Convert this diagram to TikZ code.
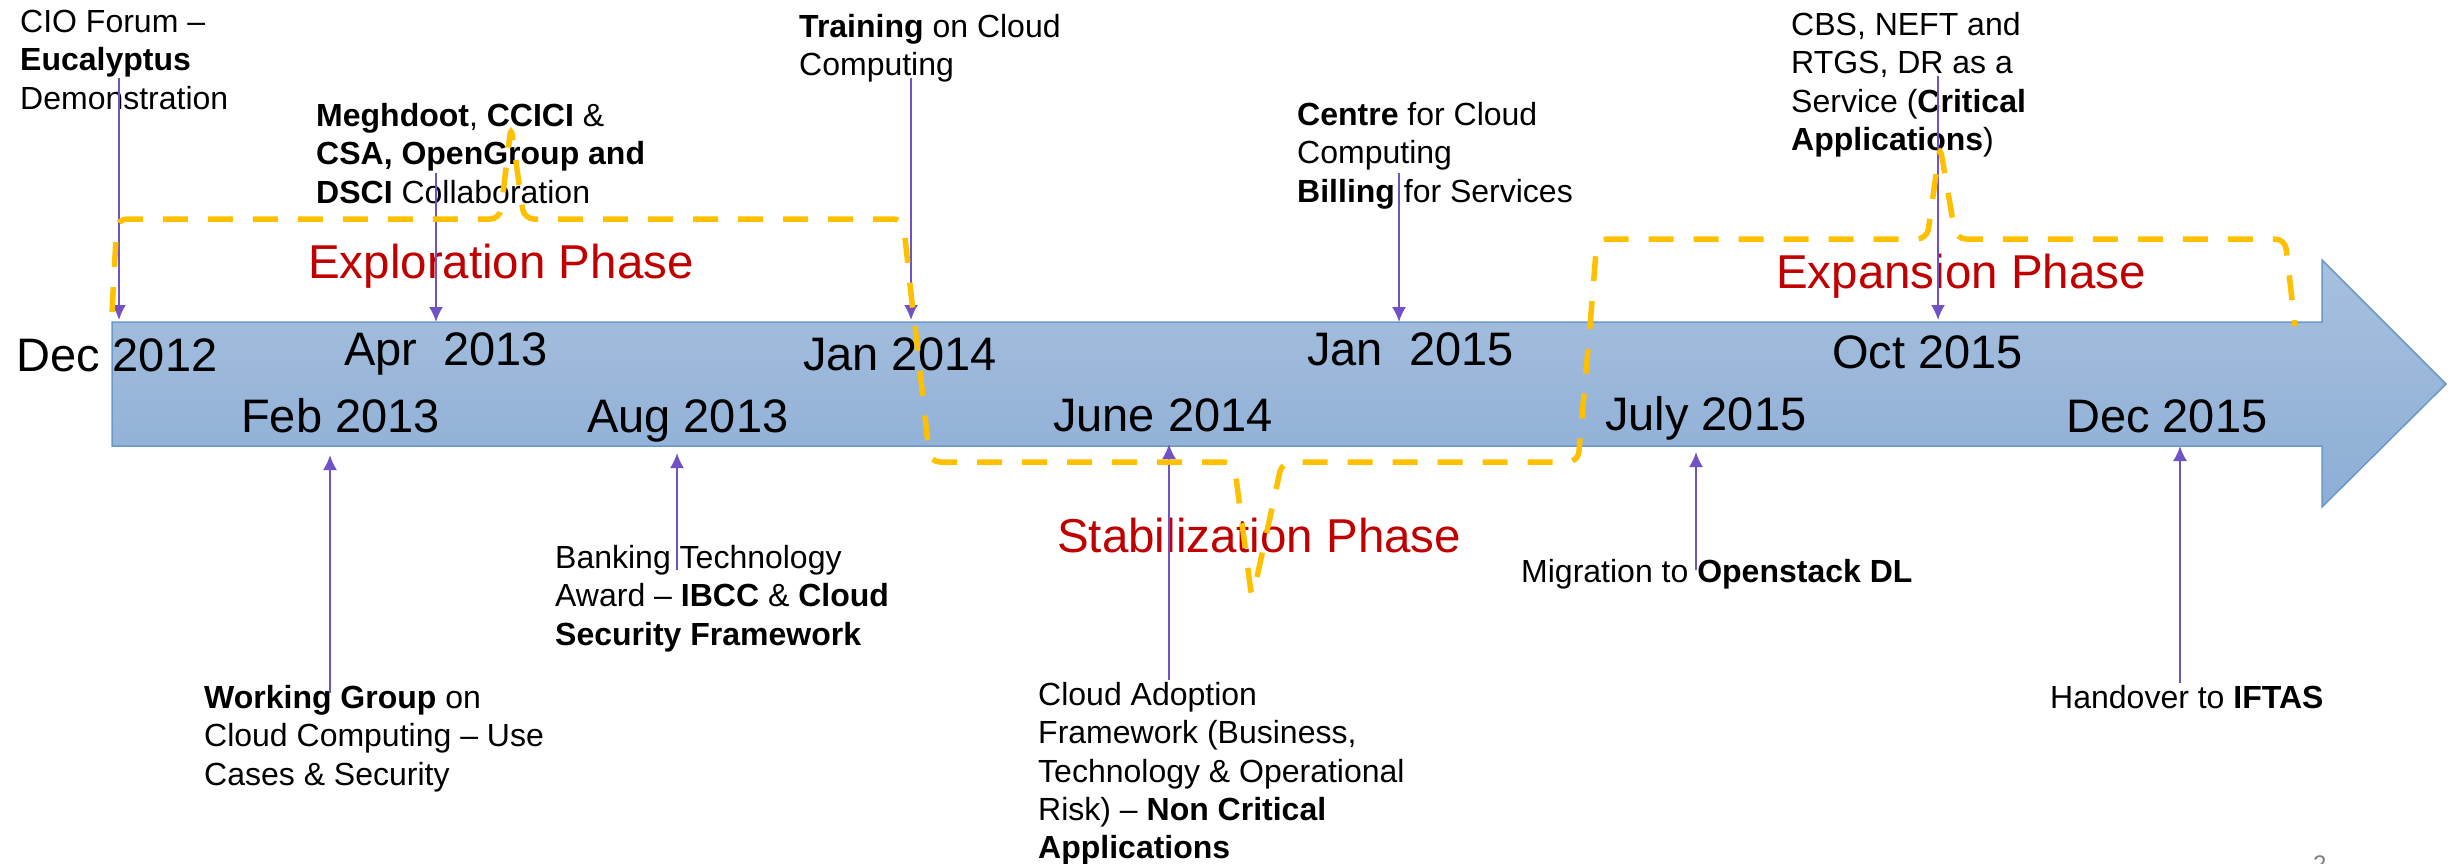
\documentclass[tikz,border=0pt]{standalone}
\usepackage{fontspec}
\setmainfont{Liberation Sans}
\usetikzlibrary{arrows.meta}

\definecolor{evpurple}{RGB}{112,82,198}
\definecolor{phaseorange}{RGB}{255,192,0}
\definecolor{phasered}{RGB}{192,0,0}
\definecolor{tltop}{RGB}{168,192,222}
\definecolor{tlbot}{RGB}{140,174,214}
\definecolor{tledge}{RGB}{106,152,200}

\tikzset{
	event/.style={draw=evpurple, line width=2pt, -{Latex[length=15pt,width=14pt]}},
	evtext/.style={anchor=north west, inner sep=0pt, align=left, font=\fontsize{32}{38.4}\selectfont},
	datelbl/.style={anchor=base west, inner sep=0pt, font=\fontsize{47}{56}\selectfont},
	phaselbl/.style={anchor=base west, inner sep=0pt, text=phasered, font=\fontsize{47.5}{56}\selectfont},
	phasebox/.style={draw=phaseorange, line width=5.5pt, dash pattern=on 25pt off 20pt, rounded corners=10pt},
}

\begin{document}
\begin{tikzpicture}[x=1pt,y=-1pt]
		\useasboundingbox (0,0) rectangle (2459,864);

		% the timeline arrow
		\shade[top color=tltop, bottom color=tlbot, draw=tledge, line width=1.5pt]
			(112,322) -- (2322,322) -- (2322,260) -- (2446,384) -- (2322,507) -- (2322,446) -- (112,446) -- cycle;

		% dates on the timeline
		\foreach \nm/\x/\y/\t in {dec12/16/371/Dec 2012, apr13/344/365/Apr~~2013, jan14/803/370/Jan 2014, jan15/1307/365/Jan~~2015, oct15/1832/368/Oct 2015,
			feb13/241/432/Feb 2013, aug13/587/432/Aug 2013, jun14/1053/431/June 2014, jul15/1605/430/July 2015, dec15/2066/432/Dec 2015} {
			\node[datelbl] (\nm) at (\x,\y) {\t};
		}

		% phase names
		\node[phaselbl] (explore) at (308,278) {Exploration Phase};
		\node[phaselbl] (stabil) at (1057,552) {Stabilization Phase};
		\node[phaselbl] (expand) at (1776,288) {Expansion Phase};

		% events above
		\node[evtext] (cio) at (20,10) {CIO Forum –\\\textbf{Eucalyptus}\\Demonstration};
		\node[evtext] (meghdoot) at (316,103) {\textbf{Meghdoot}, \textbf{CCICI} \&\\\textbf{CSA, OpenGroup and}\\\textbf{DSCI} Collaboration};
		\node[evtext] (training) at (799,14) {\textbf{Training} on Cloud\\Computing};
		\node[evtext] (centre) at (1297,102) {\textbf{Centre} for Cloud\\Computing\\\textbf{Billing} for Services};
		\node[evtext] (cbs) at (1791,12) {CBS, NEFT and\\RTGS, DR as a\\Service (\textbf{Critical}\\\textbf{Applications})};

		% events below
		\node[evtext] (wg) at (204,685) {\textbf{Working Group} on\\Cloud Computing – Use\\Cases \& Security};
		\node[evtext] (banking) at (555,545) {Banking Technology\\Award – \textbf{IBCC} \& \textbf{Cloud}\\\textbf{Security Framework}};
		\node[evtext] (cad) at (1038,682) {Cloud Adoption\\Framework (Business,\\Technology \& Operational\\Risk) – \textbf{Non Critical}\\\textbf{Applications}};
		\node[evtext, anchor=base west] (migration) at (1521,582) {Migration to \textbf{Openstack DL}};
		\node[evtext, anchor=base west] (handover) at (2050,708) {Handover to \textbf{IFTAS}};

		% pointers to the timeline
		\foreach \nm/\x/\ys/\ye in {cio/119/78/320, meghdoot/436/173/322, training/911/78/320, centre/1399/173/322, cbs/1938/76/320,
			wg/330/693/455, banking/677/570/453, cad/1169/680/444, migration/1696/570/452, handover/2180/683/446} {
			\coordinate (\nm-s) at (\x,\ys);
			\coordinate (\nm-e) at (\x,\ye);
			\draw[event] (\nm-s) -- (\nm-e);
		}

		% dashed phase callouts
		\draw[phasebox] (112,312) -- (117,219) -- (500,219) -- (511,126) -- (524,219) -- (903,219) -- (913,312);
		\draw[phasebox] (915,326) -- (930,462) -- (1234,462) -- (1252,600) -- (1282,462) -- (1578,462) -- (1590,326);
		\draw[phasebox] (1590,326) -- (1597,239) -- (1927,239) -- (1940,146) -- (1956,239) -- (2285,239) -- (2295,326);

		% page number
		\node[anchor=north west, inner sep=0pt, text=gray, font=\fontsize{24}{28}\selectfont] (pageno) at (2313,856) {2};
	\end{tikzpicture}
\end{document}
